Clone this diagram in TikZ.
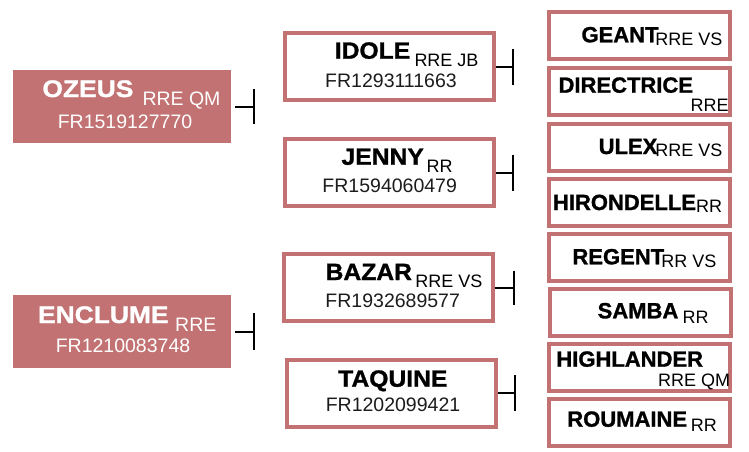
\documentclass[tikz,border=0pt]{standalone}
\usepackage{fontspec}
\setmainfont{Liberation Sans}
\newfontfamily\namefont{Liberation Sans Bold}[FakeBold=1.2]
\newfontfamily\namefontwide{Liberation Sans Bold}[FakeBold=1.2, FakeStretch=1.05]
\newfontfamily\namefontwider{Liberation Sans Bold}[FakeBold=1.2, FakeStretch=1.1]
\usepackage{tikz}
\usetikzlibrary{calc, positioning}
\usepackage{xcolor}

\definecolor{rose}{RGB}{194,114,114}
\definecolor{inkgrey}{RGB}{28,28,28}

\tikzset{
  sire/.style={rectangle, fill=rose, minimum width=218pt, minimum height=73pt, inner sep=0pt, outer sep=0pt},
  horse/.style={rectangle, draw=rose, line width=4pt, fill=white, inner sep=0pt},
  mid/.style={horse, minimum width=209pt, minimum height=67pt},
  leaf/.style={horse, minimum width=181pt, minimum height=47pt},
  hname/.style={anchor=base, inner sep=0pt, font=\namefont\fontsize{22}{22}\selectfont},
  midname/.style={hname, font=\namefontwide\fontsize{23.5}{23.5}\selectfont},
  sirename/.style={hname, text=white, font=\namefontwider\fontsize{24}{24}\selectfont},
  htag/.style={anchor=base, inner sep=0pt, font=\fontsize{18}{18}\selectfont},
  siretag/.style={htag, text=white, font=\fontsize{19.5}{19.5}\selectfont},
  hcode/.style={anchor=base, inner sep=0pt, text=inkgrey, font=\fontsize{19.5}{19.5}\selectfont},
  tee/.style={line width=2pt},
}

\begin{document}
\begin{tikzpicture}[x=1pt, y=-1pt]
        \useasboundingbox (0,0) rectangle (749,451);
        % first generation
        \node[sire] (ozeus) at (122,106.5) {};
        \node[sirename] (ozeusN) at (87.9,97) {OZEUS};
        \node[siretag] (ozeusT) at (181.5,105.7) {RRE QM};
        \node[hcode, text=white] (ozeusC) at (125,128.3) {FR1519127770};
        \node[sire] (enclume) at (122,331.5) {};
        \node[sirename] (enclumeN) at (103.3,323) {ENCLUME};
        \node[siretag] (enclumeT) at (195.8,331) {RRE};
        \node[hcode, text=white] (enclumeC) at (123,352.3) {FR1210083748};
        % second generation
        \node[mid] (idole) at (389.5,66.5) {};
        \node[midname] (idoleN) at (372.5,58.7) {IDOLE};
        \node[htag] (idoleT) at (446.5,66) {RRE JB};
        \node[hcode] (idoleC) at (391,87) {FR1293111663};
        \node[mid] (jenny) at (389.5,172.5) {};
        \node[midname] (jennyN) at (382.7,164.7) {JENNY};
        \node[htag] (jennyT) at (439.7,172) {RR};
        \node[hcode] (jennyC) at (389.7,192.7) {FR1594060479};
        \node[mid] (bazar) at (388,287.5) {};
        \node[midname] (bazarN) at (368.8,280) {BAZAR};
        \node[htag] (bazarT) at (448.8,287.3) {RRE VS};
        \node[hcode] (bazarC) at (392.7,307.3) {FR1932689577};
        \node[mid] (taquine) at (391.5,393) {};
        \node[midname] (taquineN) at (392.8,386.7) {TAQUINE};
        \node[hcode] (taquineC) at (393,411.7) {FR1202099421};
        % third generation
        \node[leaf] (geant) at (639.5,35.5) {};
        \node[hname] (geantN) at (620,42.3) {GEANT};
        \node[htag] (geantT) at (688.8,45) {RRE VS};
        \node[leaf] (directrice) at (639.5,91.5) {};
        \node[hname] (directriceN) at (625.8,92.7) {DIRECTRICE};
        \node[htag] (directriceT) at (709.7,111.7) {RRE};
        \node[leaf] (ulex) at (639.5,147.5) {};
        \node[hname] (ulexN) at (628,154) {ULEX};
        \node[htag] (ulexT) at (688.8,156.7) {RRE VS};
        \node[leaf] (hirondelle) at (639.5,202) {};
        \node[hname] (hirondelleN) at (624.5,210) {HIRONDELLE};
        \node[htag] (hirondelleT) at (709.2,212.7) {RR};
        \node[leaf] (regent) at (639.5,257) {};
        \node[hname] (regentN) at (618.3,264.3) {REGENT};
        \node[htag] (regentT) at (688.8,267.7) {RR VS};
        \node[leaf] (samba) at (640,312.5) {};
        \node[hname] (sambaN) at (638,318.3) {SAMBA};
        \node[htag] (sambaT) at (695.5,323.3) {RR};
        \node[leaf] (highlander) at (639.5,367) {};
        \node[hname] (highlanderN) at (629.7,366.7) {HIGHLANDER};
        \node[htag] (highlanderT) at (694.2,386) {RRE QM};
        \node[leaf] (roumaine) at (639.5,422.5) {};
        \node[hname] (roumaineN) at (627.2,426.7) {ROUMAINE};
        \node[htag] (roumaineT) at (703.8,431.7) {RR};
        % tee connectors
        \coordinate (t1) at ($(ozeus.east)+(23,0)$);
        \coordinate (t2) at ($(enclume.east)+(23,0)$);
        \coordinate (t3) at ($(idole.east)+(17,0)$);
        \coordinate (t4) at ($(jenny.east)+(17,0)$);
        \coordinate (t5) at ($(bazar.east)+(19,0)$);
        \coordinate (t6) at ($(taquine.east)+(17,0)$);
        \draw[tee, shorten <=4pt] (ozeus.east) -- (t1);
        \draw[tee] ($(t1)+(0,-17.5)$) -- ($(t1)+(0,17.5)$);
        \draw[tee, shorten <=4pt] (enclume.east) -- (t2);
        \draw[tee] ($(t2)+(0,-18.5)$) -- ($(t2)+(0,18.5)$);
        \draw[tee] (idole.east) -- (t3);
        \draw[tee] ($(t3)+(0,-18)$) -- ($(t3)+(0,18)$);
        \draw[tee] (jenny.east) -- (t4);
        \draw[tee] ($(t4)+(0,-18)$) -- ($(t4)+(0,18)$);
        \draw[tee] (bazar.east) -- (t5);
        \draw[tee] ($(t5)+(0,-17)$) -- ($(t5)+(0,17)$);
        \draw[tee] (taquine.east) -- (t6);
        \draw[tee] ($(t6)+(0,-18)$) -- ($(t6)+(0,18)$);
      \end{tikzpicture}
\end{document}
